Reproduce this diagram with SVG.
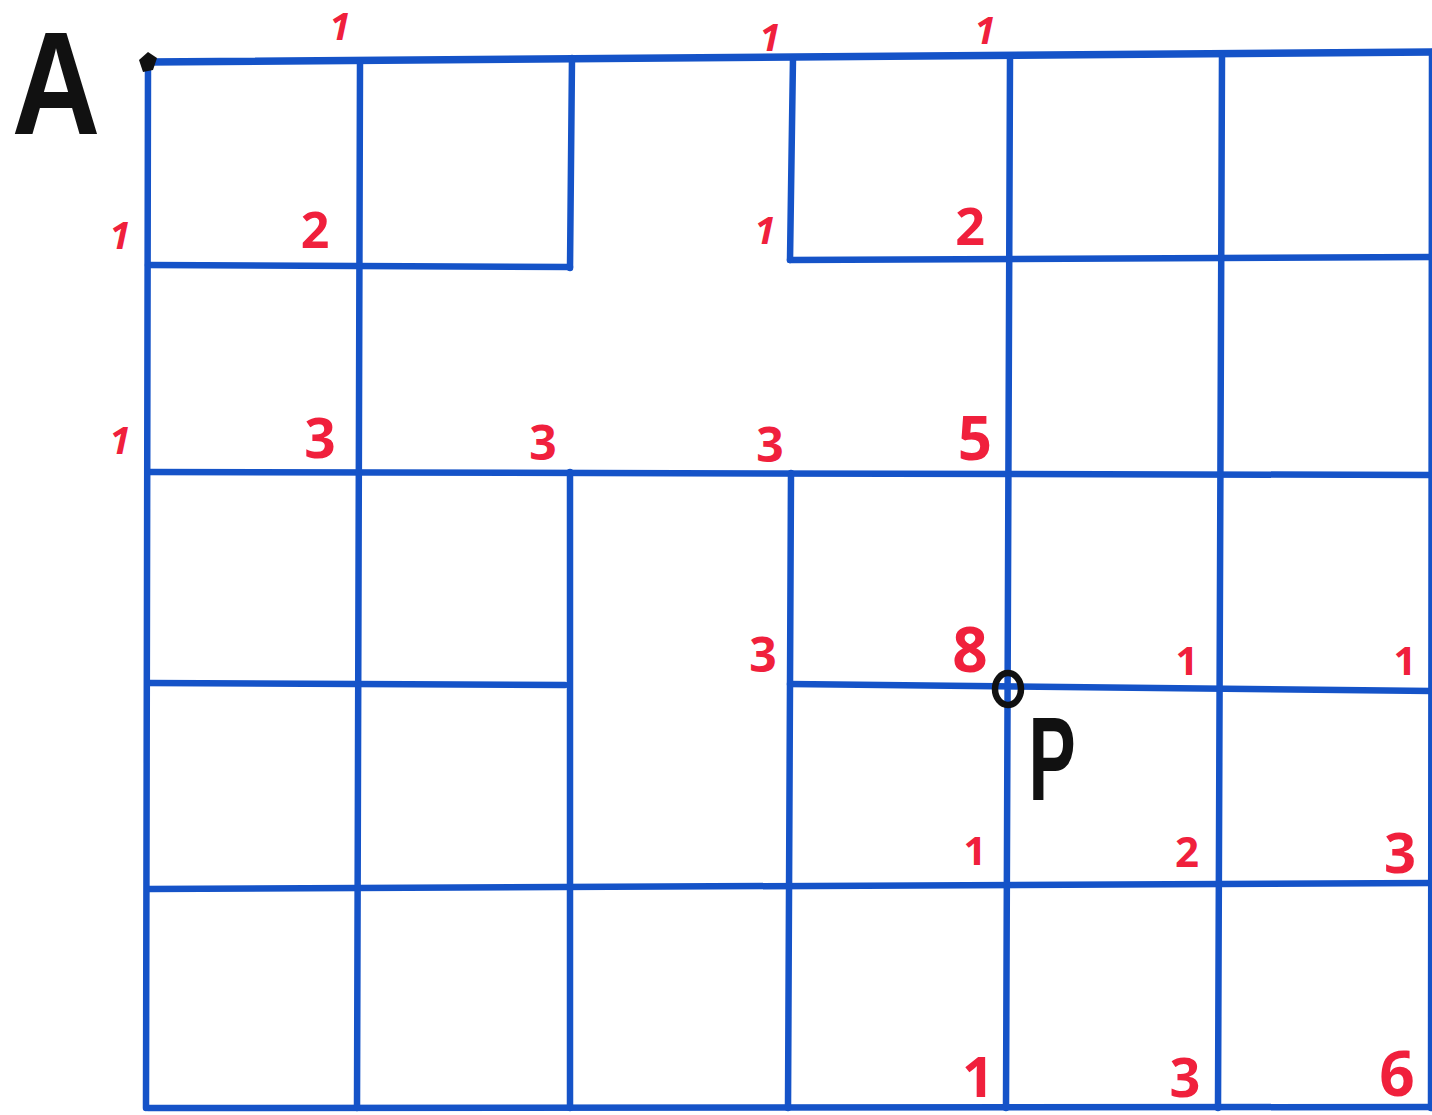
<svg xmlns="http://www.w3.org/2000/svg" width="1432" height="1115" viewBox="0 0 1432 1115">
<style>
.g{stroke:#1553c8;stroke-width:6.5;stroke-linecap:round;fill:none}
.r{fill:#f0203c;font-family:"Open Sans","Liberation Sans",sans-serif;font-weight:700;text-anchor:middle}
.s{font-style:italic}
.k{fill:#111;font-family:"Liberation Sans",sans-serif;font-weight:bold;text-anchor:middle}
</style>
<rect width="1432" height="1115" fill="#fff"/>
<g id="grid">
<line class="g" x1="148" y1="62" x2="1432" y2="52" style="stroke-width:7.5"/>
<line class="g" x1="148" y1="265" x2="570" y2="267"/>
<line class="g" x1="790" y1="260" x2="1432" y2="257"/>
<line class="g" x1="148" y1="472" x2="1432" y2="475"/>
<line class="g" x1="148" y1="683" x2="565" y2="685"/>
<line class="g" x1="790" y1="684" x2="1432" y2="691"/>
<line class="g" x1="148" y1="889" x2="1432" y2="883"/>
<line class="g" x1="148" y1="1108" x2="1432" y2="1107"/>
<line class="g" x1="148" y1="62" x2="146" y2="1108"/>
<line class="g" x1="360" y1="62" x2="357" y2="1108"/>
<line class="g" x1="572" y1="58" x2="570" y2="268"/>
<line class="g" x1="570" y1="472" x2="570" y2="1108"/>
<line class="g" x1="793" y1="58" x2="790" y2="260"/>
<line class="g" x1="791" y1="473" x2="788" y2="1108"/>
<line class="g" x1="1010" y1="56" x2="1006" y2="1108"/>
<line class="g" x1="1222" y1="55" x2="1218" y2="1108"/>
<line class="g" x1="1432" y1="52" x2="1431" y2="1108"/>
</g>
<g id="markers">
<path d="M139,60 L148,52 L157,58 L153,70 L143,72 Z" fill="#111"/>
<ellipse cx="1008" cy="689" rx="13" ry="16" fill="none" stroke="#111" stroke-width="6.5"/>
<text class="k" transform="translate(56,134) scale(0.84,1)" font-size="146">A</text>
<text class="k" transform="translate(1052,800) scale(0.6,1)" font-size="118">P</text>
</g>
<g id="labels">
<text class="r s" x="340" y="40" font-size="38">1</text>
<text class="r s" x="770" y="51" font-size="38">1</text>
<text class="r s" x="985" y="44" font-size="38">1</text>
<text class="r s" x="120" y="249" font-size="38">1</text>
<text class="r s" x="765" y="244" font-size="38">1</text>
<text class="r s" x="120" y="454" font-size="38">1</text>
<text class="r" x="315" y="248" font-size="50">2</text>
<text class="r" x="970" y="245" font-size="52">2</text>
<text class="r" x="320" y="458" font-size="55">3</text>
<text class="r" x="543" y="460" font-size="48">3</text>
<text class="r" x="770" y="462" font-size="48">3</text>
<text class="r" x="975" y="460" font-size="60">5</text>
<text class="r" x="763" y="672" font-size="48">3</text>
<text class="r" x="970" y="672" font-size="62">8</text>
<text class="r" x="1187" y="675" font-size="40">1</text>
<text class="r" x="1405" y="675" font-size="40">1</text>
<text class="r" x="975" y="865" font-size="40">1</text>
<text class="r" x="1187" y="867" font-size="42">2</text>
<text class="r" x="1400" y="873" font-size="56">3</text>
<text class="r" x="978" y="1097" font-size="56">1</text>
<text class="r" x="1185" y="1097" font-size="54">3</text>
<text class="r" x="1397" y="1096" font-size="62">6</text>
</g>
</svg>
